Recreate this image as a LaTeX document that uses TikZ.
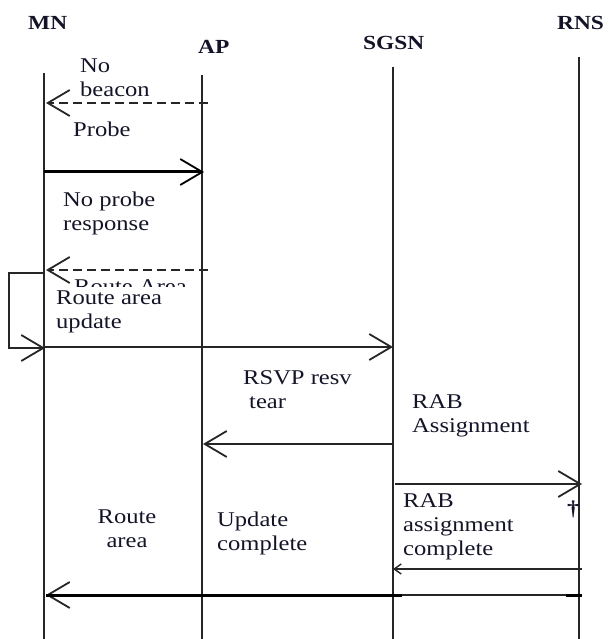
\documentclass[tikz,border=0pt]{standalone}
\usepackage{fontspec}
\setmainfont[FakeStretch=1.17]{Liberation Serif}
\usetikzlibrary{arrows.meta}
\definecolor{ink}{RGB}{20,20,40}
\tikzset{
  x=1pt, y=-1pt,
  lifeline/.style={line width=1.5pt, black!85},
  msg/.style={line width=1.4pt, black!85},
  thickmsg/.style={line width=3pt, black},
  bighead/.tip={Straight Barb[length=22pt, width=26pt, line width=1.8pt]},
  smallhead/.tip={Straight Barb[length=7pt, width=10pt, line width=1.4pt]},
  actor/.style={font=\fontsize{20}{22}\selectfont\bfseries, text=ink, inner sep=0pt, anchor=base west},
  % multi-line labels are placed by the baseline of their last line
  lbl/.style={font=\fontsize{21}{23.5}\selectfont, text=ink, inner sep=0pt, anchor=base west, align=left},
}
\begin{document}
\begin{tikzpicture}
\useasboundingbox (0,0) rectangle (608,639);

% participants
\node[actor] (mnL)   at (28,30)  {MN};
\node[actor] (apL)   at (198,54) {AP};
\node[actor] (sgsnL) at (363,50) {SGSN};
\node[actor] (rnsL)  at (557,30) {RNS};

% lifelines
\coordinate (mnT) at (44,73);   \coordinate (mnB) at (44,639);
\coordinate (apT) at (202,75);  \coordinate (apB) at (202,639);
\coordinate (sgT) at (393,67);  \coordinate (sgB) at (393,639);
\coordinate (rnT) at (579,57);  \coordinate (rnB) at (579,639);
\draw[lifeline] (mnT) -- (mnB);
\draw[lifeline] (apT) -- (apB);
\draw[lifeline] (sgT) -- (sgB);
\draw[lifeline] (rnT) -- (rnB);

% no beacon
\coordinate (ap1) at (208,103); \coordinate (mn1) at (46,103);
\draw[msg, dashed, dash pattern=on 9pt off 5pt, -{bighead}] (ap1) -- (mn1);
\node[lbl] (nobeacon) at (80,97) {No\\[0.5pt]beacon};

% probe
\coordinate (mn2) at (44,172); \coordinate (ap2) at (204,172);
\draw[thickmsg, -{bighead}] (mn2) -- (ap2);
\node[lbl] (probe) at (73,137) {Probe};

% no probe response
\coordinate (ap3) at (208,270); \coordinate (mn3) at (46,270);
\draw[msg, dashed, dash pattern=on 9pt off 5pt, -{bighead}] (ap3) -- (mn3);
\node[lbl] (noprobe) at (63,230) {No probe\\[0.5pt]response};

% partly hidden label under the route area update
\begin{scope}
  \clip (60,276) rectangle (200,286);
  \node[lbl] (ragarbled) at (74,293) {Route Area};
\end{scope}

% route area update (self loop on MN)
\coordinate (mn4a) at (44,273); \coordinate (lp1) at (9,273);
\coordinate (lp2) at (9,348);   \coordinate (mn4b) at (45,348);
\draw[msg, -{bighead}] (mn4a) -- (lp1) -- (lp2) -- (mn4b);
\node[lbl] (raupdate) at (56,328) {Route area\\[0.5pt]update};

% MN -> SGSN
\coordinate (mn5) at (44,347); \coordinate (sg5) at (393,347);
\draw[msg, -{bighead}] (mn5) -- (sg5);

% RSVP resv tear
\coordinate (sg6) at (393,444); \coordinate (ap6) at (203,444);
\draw[msg, -{bighead}] (sg6) -- (ap6);
\node[lbl] (rsvp) at (243,408) {RSVP resv\\[0.5pt]\hspace*{6pt}tear};

% RAB assignment
\coordinate (sg7) at (395,484); \coordinate (rn7) at (582,484);
\draw[msg, -{bighead}] (sg7) -- (rn7);
\node[lbl] (rab) at (412,432) {RAB\\[0.5pt]Assignment};

% RAB assignment complete
\coordinate (rn8) at (582,569); \coordinate (sg8) at (393,569);
\draw[msg, -{smallhead}] (rn8) -- (sg8);
\node[lbl] (rabc) at (403,555) {RAB\\[0.5pt]assignment\\[0.5pt]complete};
\node[lbl] (dag) at (567,515) {\bfseries\dag};

% update complete back to MN
\coordinate (rn9) at (582,595); \coordinate (mn9) at (46,595);
\coordinate (th1) at (402,595); \coordinate (th2) at (566,595);
\draw[msg, -{bighead}] (rn9) -- (mn9);
\draw[thickmsg] (mn9) -- (th1);
\draw[thickmsg] (th2) -- (rn9);
\node[lbl, align=center, anchor=base] (routearea) at (127,547) {Route\\[0.5pt]area};
\node[lbl] (updc) at (217,550) {Update\\[0.5pt]complete};
\end{tikzpicture}
\end{document}
